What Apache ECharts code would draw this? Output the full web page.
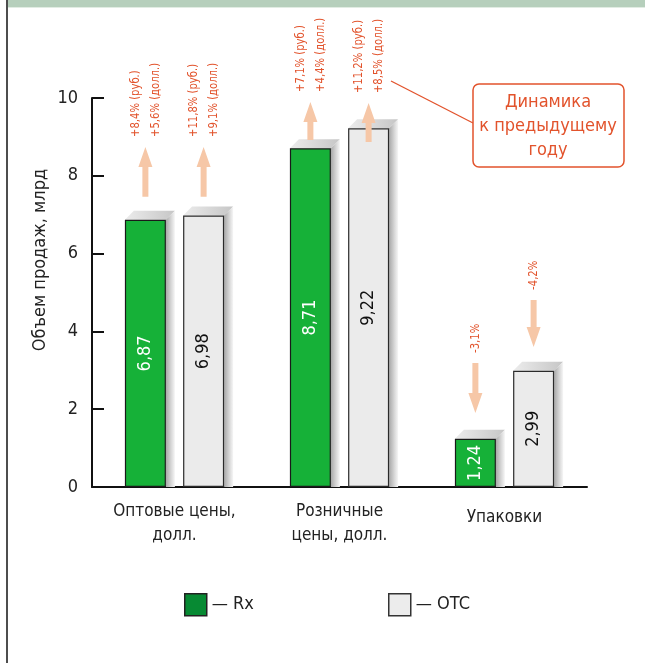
<!DOCTYPE html>
<html>
<head>
<meta charset="utf-8">
<script src="https://cdn.jsdelivr.net/npm/echarts@6/dist/echarts.min.js"></script>
<style>
  html, body { margin: 0; padding: 0; background: #fff; }
  #chart { width: 645px; height: 663px; }
</style>
</head>
<body>
<div id="chart"></div>
<script>
// Sales volume by segment, billions
const categories = ['Оптовые цены,\nдолл.', 'Розничные\nцены, долл.', 'Упаковки'];
const rxValues = [6.87, 8.71, 1.24];
const otcValues = [6.98, 9.22, 2.99];

// Year-over-year change notes shown above each bar
const rxChange = [['+8,4% (руб.)', '+5,6% (долл.)'], ['+7,1% (руб.)', '+4,4% (долл.)'], ['-3,1%']];
const otcChange = [['+11,8% (руб.)', '+9,1% (долл.)'], ['+11,2% (руб.)', '+8,5% (долл.)'], ['-4,2%']];

// Arrow extent along the value axis: [from, to]
const rxArrowSpan = [[7.46, 8.74], [8.92, 9.90], [3.19, 1.90]];
const otcArrowSpan = [[7.46, 8.74], [8.87, 9.87], [4.81, 3.60]];

const yTicks = [0, 2, 4, 6, 8, 10];

const FONT = '"DejaVu Sans Condensed", "Liberation Sans Narrow", "Roboto", sans-serif';
const NOTE_RED = '#e2532c';
const ARROW_FILL = '#f6c7a7';
const BAR_W = 41;
const BAR_GAP = 0.42;
const DEPTH = 9;

const chart = echarts.init(document.getElementById('chart'), null, { renderer: 'canvas' });

function commaNum(v) {
  return String(v.toFixed(2)).replace('.', ',');
}

function barCenterX(api, cat, s) {
  const center = api.coord([cat, 0])[0];
  const off = (BAR_W + BAR_W * BAR_GAP) / 2;
  return center + (s === 0 ? -off : off);
}

// Pseudo-3D depth faces behind each bar (top and right side)
function renderDepth(params, api) {
  const cat = api.value(0);
  const s = api.value(1);
  const v = (s === 0 ? rxValues : otcValues)[cat];
  const cx = barCenterX(api, cat, s);
  const x0 = cx - BAR_W / 2, x1 = cx + BAR_W / 2;
  const top = api.coord([cat, v])[1];
  const bottom = api.coord([cat, 0])[1];
  const d = DEPTH;
  return {
    type: 'group',
    children: [
      {
        type: 'polygon',
        shape: { points: [[x0, top], [x0 + d, top - d], [x1 + d, top - d], [x1, top]] },
        style: {
          fill: new echarts.graphic.LinearGradient(0, 0, 1, 0, [
            { offset: 0, color: '#ececec' }, { offset: 1, color: '#c6c6c6' }
          ])
        }
      },
      {
        type: 'polygon',
        shape: { points: [[x1, top], [x1 + d, top - d], [x1 + d, bottom], [x1, bottom]] },
        style: {
          fill: new echarts.graphic.LinearGradient(0, 0, 1, 0, [
            { offset: 0, color: '#a8a8a8' }, { offset: 0.6, color: '#d8d8d8' }, { offset: 1, color: '#f6f6f6' }
          ])
        }
      }
    ]
  };
}

function renderNote(params, api) {
  const cat = api.value(0);
  const s = api.value(1);
  const span = (s === 0 ? rxArrowSpan : otcArrowSpan)[cat];
  const lines = (s === 0 ? rxChange : otcChange)[cat];
  const x = barCenterX(api, cat, s);
  const y0 = api.coord([cat, span[0]])[1];
  const y1 = api.coord([cat, span[1]])[1];
  const dir = y1 < y0 ? -1 : 1;
  const headLen = 20, headHalf = 7, shaftHalf = 3;
  const hb = y1 - dir * headLen;
  const pts = [
    [x - shaftHalf, y0], [x + shaftHalf, y0], [x + shaftHalf, hb],
    [x + headHalf, hb], [x, y1], [x - headHalf, hb], [x - shaftHalf, hb]
  ];
  const textBase = Math.min(y0, y1) - 10;
  return {
    type: 'group',
    children: [
      { type: 'polygon', shape: { points: pts }, style: { fill: ARROW_FILL } },
      {
        type: 'text',
        x: x,
        y: textBase,
        rotation: Math.PI / 2,
        scaleX: 0.86,
        style: {
          text: lines.join('\n'),
          align: 'left',
          verticalAlign: 'middle',
          lineHeight: 20,
          fontSize: 13,
          fontFamily: FONT,
          fill: NOTE_RED
        }
      }
    ]
  };
}

const pairData = [];
for (let i = 0; i < categories.length; i++) {
  pairData.push([i, 0]);
  pairData.push([i, 1]);
}

const legendBase = {
  top: 588,
  itemWidth: 22,
  itemHeight: 22,
  itemGap: 0,
  icon: 'rect',
  formatter: '— {name}',
  textStyle: { fontSize: 18, fontFamily: FONT, color: '#222' }
};

const option = {
  backgroundColor: '#fff',
  animation: false,
  grid: { left: 92, right: 58, top: 98, bottom: 176, containLabel: false },
  xAxis: {
    type: 'category',
    data: categories,
    axisLine: { lineStyle: { color: '#111', width: 2 } },
    axisTick: { inside: true, length: 10, lineStyle: { color: '#111', width: 2 } },
    axisLabel: {
      interval: 0,
      margin: 13,
      fontSize: 17,
      lineHeight: 24,
      fontFamily: FONT,
      color: '#222',
      formatter: v => v.indexOf('\n') >= 0 ? v : '{one|' + v + '}',
      rich: { one: { fontSize: 17, lineHeight: 36, fontFamily: FONT, color: '#222' } }
    }
  },
  yAxis: {
    type: 'value',
    min: yTicks[0],
    max: yTicks[yTicks.length - 1],
    interval: 2,
    splitLine: { show: false },
    axisLine: { show: true, lineStyle: { color: '#111', width: 2 } },
    axisTick: { show: true, inside: true, length: 12, lineStyle: { color: '#111', width: 2 } },
    axisLabel: { margin: 14, fontSize: 18, fontFamily: FONT, color: '#222' }
  },
  legend: [
    Object.assign({}, legendBase, {
      left: 179,
      data: [{ name: 'Rx', itemStyle: { color: '#078a33', borderColor: '#222', borderWidth: 1.5 } }]
    }),
    Object.assign({}, legendBase, {
      left: 383,
      data: [{ name: 'OTC', itemStyle: { color: '#ececec', borderColor: '#333', borderWidth: 1.5 } }]
    })
  ],
  series: [
    {
      name: 'depth',
      type: 'custom',
      renderItem: renderDepth,
      data: pairData,
      encode: { x: 0, y: 1 },
      silent: true,
      z: 1
    },
    {
      name: 'Rx',
      type: 'bar',
      data: rxValues,
      barWidth: BAR_W,
      barGap: (BAR_GAP * 100) + '%',
      z: 3,
      itemStyle: { color: '#16b138', borderColor: '#1a1a1a', borderWidth: 1.2 },
      label: {
        show: true,
        position: 'inside',
        rotate: 90,
        formatter: p => commaNum(p.value),
        fontSize: 18,
        fontFamily: FONT,
        color: '#fff'
      }
    },
    {
      name: 'OTC',
      type: 'bar',
      data: otcValues,
      barWidth: BAR_W,
      z: 3,
      itemStyle: { color: '#ebebeb', borderColor: '#2a2a2a', borderWidth: 1.2 },
      label: {
        show: true,
        position: 'inside',
        rotate: 90,
        formatter: p => commaNum(p.value),
        fontSize: 18,
        fontFamily: FONT,
        color: '#111'
      }
    },
    {
      name: 'notes',
      type: 'custom',
      renderItem: renderNote,
      data: pairData,
      encode: { x: 0, y: 1 },
      silent: true,
      z: 5
    }
  ],
  graphic: [
    // header band and left frame rule
    { type: 'rect', shape: { x: 8, y: 0, width: 637, height: 7 }, style: { fill: '#b6cfbc' }, silent: true },
    { type: 'rect', shape: { x: 8, y: 7, width: 637, height: 1 }, style: { fill: '#e1ece3' }, silent: true },
    { type: 'rect', shape: { x: 6, y: 0, width: 2, height: 663 }, style: { fill: '#4d4d4d' }, silent: true },
    // value axis title
    {
      type: 'text', x: 40, y: 260, rotation: Math.PI / 2,
      style: { text: 'Объем продаж, млрд', align: 'center', verticalAlign: 'middle', fontSize: 18, fontFamily: FONT, fill: '#222' }
    },
    // callout explaining the arrows
    { type: 'line', shape: { x1: 391, y1: 81, x2: 473, y2: 123 }, style: { stroke: NOTE_RED, lineWidth: 1.3 } },
    {
      type: 'rect', shape: { x: 473, y: 84, width: 151, height: 83, r: 6 },
      style: { fill: '#fff', stroke: NOTE_RED, lineWidth: 1.5 }
    },
    {
      type: 'text', x: 548, y: 126,
      style: { text: 'Динамика\nк предыдущему\nгоду', align: 'center', verticalAlign: 'middle', lineHeight: 24, fontSize: 18, fontFamily: FONT, fill: NOTE_RED }
    }
  ]
};

chart.setOption(option);
</script>
</body>
</html>
